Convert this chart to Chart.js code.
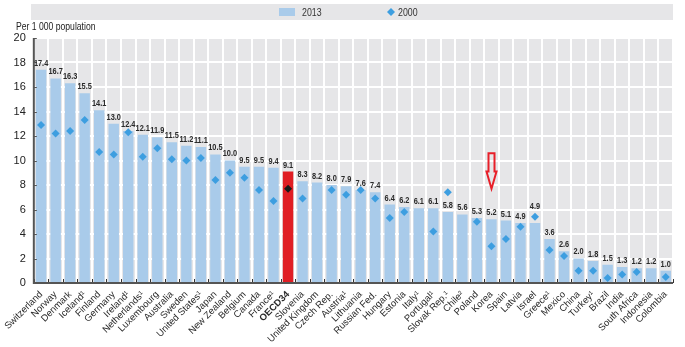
<!DOCTYPE html>
<html>
<head>
<meta charset="utf-8">
<script src="https://cdn.jsdelivr.net/npm/chart.js@4/dist/chart.umd.min.js"></script>
<style>
  html, body { margin: 0; padding: 0; background: #fff; }
  #wrap { width: 685px; height: 347px; position: relative; }
</style>
</head>
<body>
<div id="wrap"><canvas id="chart"></canvas></div>
<script>
// DATA
const countries = ["Switzerland", "Norway", "Denmark", "Iceland¹", "Finland", "Germany", "Ireland¹",
  "Netherlands¹", "Luxembourg", "Australia", "Sweden", "United States¹", "Japan", "New Zealand",
  "Belgium", "Canada", "France¹", "OECD34", "Slovenia", "United Kingdom", "Czech Rep.", "Austria¹",
  "Lithuania", "Russian Fed.", "Hungary", "Estonia", "Italy¹", "Portugal¹", "Slovak Rep.¹", "Chile²",
  "Poland", "Korea", "Spain", "Latvia", "Israel", "Greece¹", "Mexico", "China", "Turkey¹", "Brazil",
  "India", "South Africa", "Indonesia", "Colombia"];
const values2013 = [17.4, 16.7, 16.3, 15.5, 14.1, 13.0, 12.4, 12.1, 11.9, 11.5, 11.2, 11.1, 10.5, 10.0,
  9.5, 9.5, 9.4, 9.1, 8.3, 8.2, 8.0, 7.9, 7.6, 7.4, 6.4, 6.2, 6.1, 6.1, 5.8, 5.6,
  5.3, 5.2, 5.1, 4.9, 4.9, 3.6, 2.6, 2.0, 1.8, 1.5, 1.3, 1.2, 1.2, 1.0];
const values2000 = [12.9, 12.2, 12.4, 13.3, 10.7, 10.5, 12.3, 10.3, 11.0, 10.1, 10.0, 10.2, 8.4, 9.0,
  8.6, 7.6, 6.7, 7.7, 6.9, null, 7.6, 7.2, 7.6, 6.9, 5.3, 5.8, null, 4.2, 7.4, null,
  5.0, 3.0, 3.6, 4.6, 5.4, 2.7, 2.2, 1.0, 1.0, 0.4, 0.7, 0.9, null, 0.5];
const yTicks = [0, 2, 4, 6, 8, 10, 12, 14, 16, 18, 20];
const highlight = "OECD34";
const arrowAt = "Korea";

const FONT = "'Liberation Sans', Arial, sans-serif";
const BAR = "#a9cbea";
const DOT = "#3d9ee0";
const PLOT_BG = "#e6e6e8";

// draw text squeezed horizontally (narrow font look)
function narrowText(ctx, text, x, y, sx) {
  ctx.save();
  ctx.translate(x, y);
  ctx.scale(sx, 1);
  ctx.fillText(text, 0, 0);
  ctx.restore();
}

// background of the plot area, legend band, labels, arrow
const decor = {
  id: "decor",
  beforeDraw(chart) {
    const { ctx, chartArea: a } = chart;
    ctx.save();
    ctx.fillStyle = PLOT_BG;
    ctx.fillRect(a.left, a.top, a.right - a.left, a.bottom - a.top);
    // legend band
    ctx.fillRect(31, 4, 642, 16);
    ctx.fillStyle = BAR;
    ctx.fillRect(279, 8, 16, 8);
    ctx.fillStyle = "#333";
    ctx.font = "11px " + FONT;
    ctx.textBaseline = "middle";
    narrowText(ctx, "2013", 302, 12.5, 0.8);
    narrowText(ctx, "2000", 398, 12.5, 0.8);
    ctx.fillStyle = DOT;
    ctx.beginPath();
    ctx.moveTo(391, 8); ctx.lineTo(395, 12); ctx.lineTo(391, 16); ctx.lineTo(387, 12);
    ctx.closePath(); ctx.fill();
    // unit
    ctx.fillStyle = "#222";
    ctx.font = "10.5px " + FONT;
    narrowText(ctx, "Per 1 000 population", 16, 27, 0.82);
    ctx.restore();
  },
  afterDatasetsDraw(chart) {
    const { ctx, chartArea: a, scales: { x, y } } = chart;
    ctx.save();
    // small tick marks between categories
    ctx.strokeStyle = "#333";
    ctx.lineWidth = 1;
    const step = x.getPixelForValue(1) - x.getPixelForValue(0);
    for (let i = 0; i <= countries.length; i++) {
      const px = Math.round(x.getPixelForValue(i) - step / 2) + 0.5;
      ctx.beginPath(); ctx.moveTo(px, a.bottom); ctx.lineTo(px, a.bottom - 4); ctx.stroke();
    }
    // axis lines
    ctx.strokeStyle = "#555";
    ctx.lineWidth = 2;
    ctx.beginPath();
    ctx.moveTo(a.left, a.top); ctx.lineTo(a.left, a.bottom); ctx.lineTo(a.right, a.bottom);
    ctx.stroke();
    ctx.lineWidth = 1;
    yTicks.forEach(v => {
      const py = Math.round(y.getPixelForValue(v)) + 0.5;
      ctx.beginPath(); ctx.moveTo(a.left, py); ctx.lineTo(a.left + 3, py); ctx.stroke();
    });
    // value labels
    ctx.font = "bold 9px " + FONT;
    ctx.textAlign = "center";
    ctx.textBaseline = "bottom";
    ctx.fillStyle = "#2a2a2a";
    values2013.forEach((v, i) => {
      let top = v;
      const old = values2000[i];
      if (old !== null && old > v && old - v < 0.8) top = old + 0.3;
      narrowText(ctx, v.toFixed(1), x.getPixelForValue(i), y.getPixelForValue(top) - 2, 0.82);
    });
    // red arrow pointing at Korea
    const k = countries.indexOf(arrowAt);
    const cx = Math.round(x.getPixelForValue(k)) + 0.5;
    const t = y.getPixelForValue(10.6), m = y.getPixelForValue(9.1), b = y.getPixelForValue(7.7);
    ctx.strokeStyle = "#e8202a";
    ctx.lineWidth = 2;
    ctx.beginPath();
    ctx.moveTo(cx - 3, t); ctx.lineTo(cx + 3, t); ctx.lineTo(cx + 3, m);
    ctx.lineTo(cx + 5, m); ctx.lineTo(cx, b); ctx.lineTo(cx - 5, m);
    ctx.lineTo(cx - 3, m); ctx.closePath();
    ctx.stroke();
    ctx.restore();
  }
};

new Chart(document.getElementById("chart"), {
  data: {
    labels: countries,
    datasets: [
      {
        type: "line", label: "2000", data: values2000, showLine: false,
        pointStyle: "rectRot", pointRadius: 4, pointHoverRadius: 4, borderWidth: 0,
        pointBackgroundColor: countries.map(c => c === highlight ? "#1a1a1a" : DOT),
        order: 0
      },
      {
        type: "bar", label: "2013", data: values2013,
        backgroundColor: countries.map(c => c === highlight ? "#e01e24" : BAR),
        barPercentage: 0.72, categoryPercentage: 1, order: 1
      }
    ]
  },
  plugins: [decor],
  options: {
    responsive: true,
    maintainAspectRatio: false,
    animation: false,
    layout: { padding: { top: 38, right: 12, left: 0, bottom: 0 } },
    plugins: { legend: { display: false }, tooltip: { enabled: false } },
    scales: {
      x: {
        offset: true,
        grid: { color: "#fff", lineWidth: 2, offset: true, drawTicks: false },
        border: { display: false },
        ticks: {
          autoSkip: false, maxRotation: 45, minRotation: 45, padding: 6, color: "#2a2a2a",
          font: c => ({ family: FONT, size: 9.5, weight: countries[c.index] === highlight ? "bold" : "normal" })
        },
        afterFit: s => { s.height = 64; }
      },
      y: {
        min: 0, max: 20,
        afterBuildTicks: s => { s.ticks = yTicks.map(v => ({ value: v })); },
        grid: { color: "#fff", lineWidth: 2, drawTicks: false },
        border: { display: false },
        ticks: { color: "#222", padding: 8, font: { family: FONT, size: 11 } },
        afterFit: s => { s.width = 32; }
      }
    }
  }
});
</script>
</body>
</html>
